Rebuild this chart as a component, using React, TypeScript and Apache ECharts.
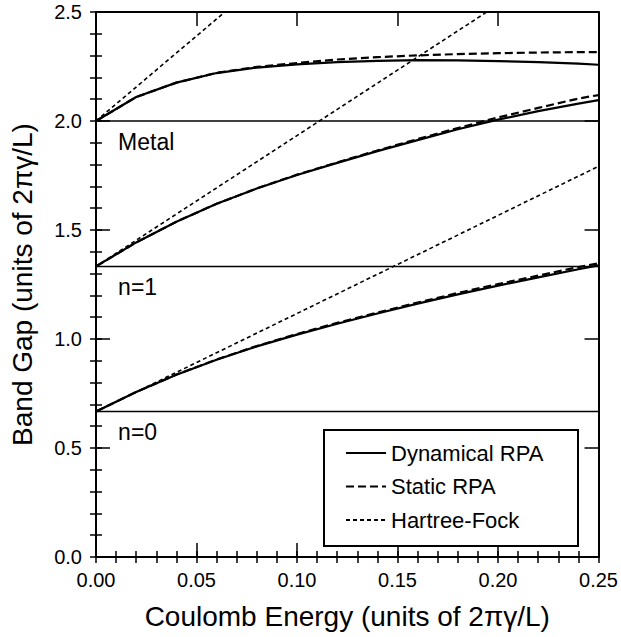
import React, { useEffect, useRef } from "react";
import * as echarts from "echarts";

// x grid (Coulomb energy, units of 2πγ/L)
const xs = [0, 0.02, 0.04, 0.06, 0.08, 0.1, 0.12, 0.14, 0.16, 0.18, 0.2, 0.22, 0.24, 0.25];

// Dynamical RPA gaps
const dynN0 = [0.667, 0.757, 0.836, 0.905, 0.966, 1.02, 1.07, 1.117, 1.162, 1.205, 1.245, 1.283, 1.32, 1.338];
const dynN1 = [1.333, 1.443, 1.538, 1.62, 1.69, 1.752, 1.808, 1.862, 1.912, 1.962, 2.006, 2.045, 2.08, 2.096];
const dynMetal = [2.0, 2.11, 2.176, 2.22, 2.245, 2.26, 2.27, 2.276, 2.279, 2.278, 2.275, 2.27, 2.263, 2.258];

// Static RPA gaps
const statN0 = [0.667, 0.757, 0.837, 0.906, 0.968, 1.023, 1.074, 1.121, 1.167, 1.211, 1.252, 1.291, 1.33, 1.347];
const statN1 = [1.333, 1.443, 1.538, 1.62, 1.691, 1.754, 1.81, 1.865, 1.917, 1.968, 2.016, 2.06, 2.103, 2.119];
const statMetal = [2.0, 2.11, 2.176, 2.221, 2.248, 2.266, 2.282, 2.293, 2.301, 2.307, 2.311, 2.314, 2.316, 2.316];

// Hartree-Fock straight lines: [x0, y0, x1, y1]
const hfN0 = [0, 0.667, 0.25, 1.792];
const hfN1 = [0, 1.333, 0.1944, 2.5];
const hfMetal = [0, 2.0, 0.0641, 2.5];

// Non-interacting levels and their labels
const levels = [0.667, 1.333, 2.0];
const levelNames = ["n=0", "n=1", "Metal"];

const legendNames = ["Dynamical RPA", "Static RPA", "Hartree-Fock"];
const xName = "Coulomb Energy (units of 2πγ/L)";
const yName = "Band Gap (units of 2πγ/L)";

const X_MIN = 0, X_MAX = 0.25, X_MAJOR = 0.05, X_MINOR = 0.01;
const Y_MIN = 0, Y_MAX = 2.5, Y_MAJOR = 0.5, Y_MINOR = 0.1;

const FONT = "'Liberation Sans', Arial, Helvetica, sans-serif";

function pairs(ys: number[]) {
  return xs.map((x, i) => [x, ys[i]]);
}

export default function App() {
  const ref = useRef<HTMLDivElement>(null);
  useEffect(() => {
    if (!ref.current) return;
    const chart = echarts.init(ref.current, undefined, { renderer: "svg" });

    const axisLine = { show: true, onZero: false, lineStyle: { color: "#000", width: 2 } };
    const majorTick = { show: true, inside: true, length: 14, lineStyle: { color: "#000", width: 1.5 } };
    const minorTickAx = { show: true, inside: true, length: 6, lineStyle: { color: "#000", width: 1.5 } };

    const dynStyle = { color: "#000", width: 2.2, type: "solid" };
    const statStyle = { color: "#000", width: 2.2, type: [8, 4] };
    const hfStyle = { color: "#000", width: 1.6, type: [4, 3] };

    const lineSeries = (name: string, data: number[][], style: any) => ({
      type: "line",
      name,
      data,
      symbol: "none",
      showSymbol: false,
      lineStyle: style,
      itemStyle: { color: "#000" },
      silent: true,
      z: 3,
    });

    const series: any[] = [];
    levels.forEach((lv) => {
      series.push({
        type: "line",
        name: "level",
        data: [
          [X_MIN, lv],
          [X_MAX, lv],
        ],
        symbol: "none",
        lineStyle: { color: "#000", width: 1.5 },
        silent: true,
        z: 2,
      });
    });
    [dynN0, dynN1, dynMetal].forEach((ys) => series.push(lineSeries(legendNames[0], pairs(ys), dynStyle)));
    [statN0, statN1, statMetal].forEach((ys) => series.push(lineSeries(legendNames[1], pairs(ys), statStyle)));
    [hfN0, hfN1, hfMetal].forEach((h) =>
      series.push(
        lineSeries(
          legendNames[2],
          [
            [h[0], h[1]],
            [h[2], h[3]],
          ],
          hfStyle
        )
      )
    );

    const xBase = { type: "value", min: X_MIN, max: X_MAX, splitLine: { show: false } };
    const yBase = { type: "value", min: Y_MIN, max: Y_MAX, splitLine: { show: false } };

    const option: any = {
      animation: false,
      backgroundColor: "#fff",
      textStyle: { fontFamily: FONT },
      grid: { left: 92, right: 21, top: 12, bottom: 80, containLabel: false },
      graphic: [
        {
          type: "rect",
          left: 323,
          top: 429,
          shape: { width: 254, height: 116 },
          style: { fill: "#fff", stroke: "#000", lineWidth: 2 },
          z: 10,
        },
      ],
      legend: {
        data: legendNames,
        orient: "vertical",
        left: 323,
        top: 429,
        itemWidth: 40,
        itemHeight: 14,
        itemGap: 11.5,
        itemStyle: { opacity: 0 },
        padding: [13, 10, 14, 22],
        backgroundColor: "transparent",
        borderWidth: 0,
        z: 20,
        textStyle: { fontSize: 22, color: "#000", lineHeight: 22, fontFamily: FONT },
        selectedMode: false,
      },
      xAxis: [
        {
          ...xBase,
          interval: X_MAJOR,
          position: "bottom",
          name: xName,
          nameLocation: "middle",
          nameGap: 45,
          nameMoveOverlap: false,
          nameTextStyle: { fontSize: 28, color: "#000", fontFamily: FONT },
          axisLine,
          axisTick: majorTick,
          axisLabel: { fontSize: 20, color: "#000", margin: 13, formatter: (v: number) => v.toFixed(2) },
        },
        { ...xBase, interval: X_MAJOR, position: "top", axisLine, axisTick: majorTick, axisLabel: { show: false } },
        { ...xBase, interval: X_MINOR, position: "bottom", axisLine: { show: false }, axisTick: minorTickAx, axisLabel: { show: false } },
        { ...xBase, interval: X_MINOR, position: "top", axisLine: { show: false }, axisTick: minorTickAx, axisLabel: { show: false } },
      ],
      yAxis: [
        {
          ...yBase,
          interval: Y_MAJOR,
          position: "left",
          name: yName,
          nameLocation: "middle",
          nameRotate: 90,
          nameGap: 60,
          nameMoveOverlap: false,
          nameTextStyle: { fontSize: 28, color: "#000", fontFamily: FONT },
          axisLine,
          axisTick: majorTick,
          axisLabel: { fontSize: 20, color: "#000", margin: 14, formatter: (v: number) => v.toFixed(1) },
        },
        { ...yBase, interval: Y_MAJOR, position: "right", axisLine, axisTick: majorTick, axisLabel: { show: false } },
        { ...yBase, interval: Y_MINOR, position: "left", axisLine: { show: false }, axisTick: minorTickAx, axisLabel: { show: false } },
        { ...yBase, interval: Y_MINOR, position: "right", axisLine: { show: false }, axisTick: minorTickAx, axisLabel: { show: false } },
      ],
      series,
    };
    chart.setOption(option);

    // Region labels placed through the grid's own coordinate conversion
    const g: any[] = option.graphic.slice();
    levels.forEach((lv, i) => {
      const p = chart.convertToPixel({ gridIndex: 0 } as any, [0.011, lv - 0.095]) as number[];
      g.push({
        type: "text",
        x: p[0],
        y: p[1],
        z: 5,
        style: {
          text: levelNames[i],
          fill: "#000",
          fontSize: 23,
          fontFamily: FONT,
          verticalAlign: "middle",
        },
      });
    });
    chart.setOption({ graphic: g });

    return () => chart.dispose();
  }, []);
  return (
    <div
      ref={ref}
      style={{ position: "fixed", left: 0, top: 0, width: 621, height: 637, background: "#fff" }}
    />
  );
}
